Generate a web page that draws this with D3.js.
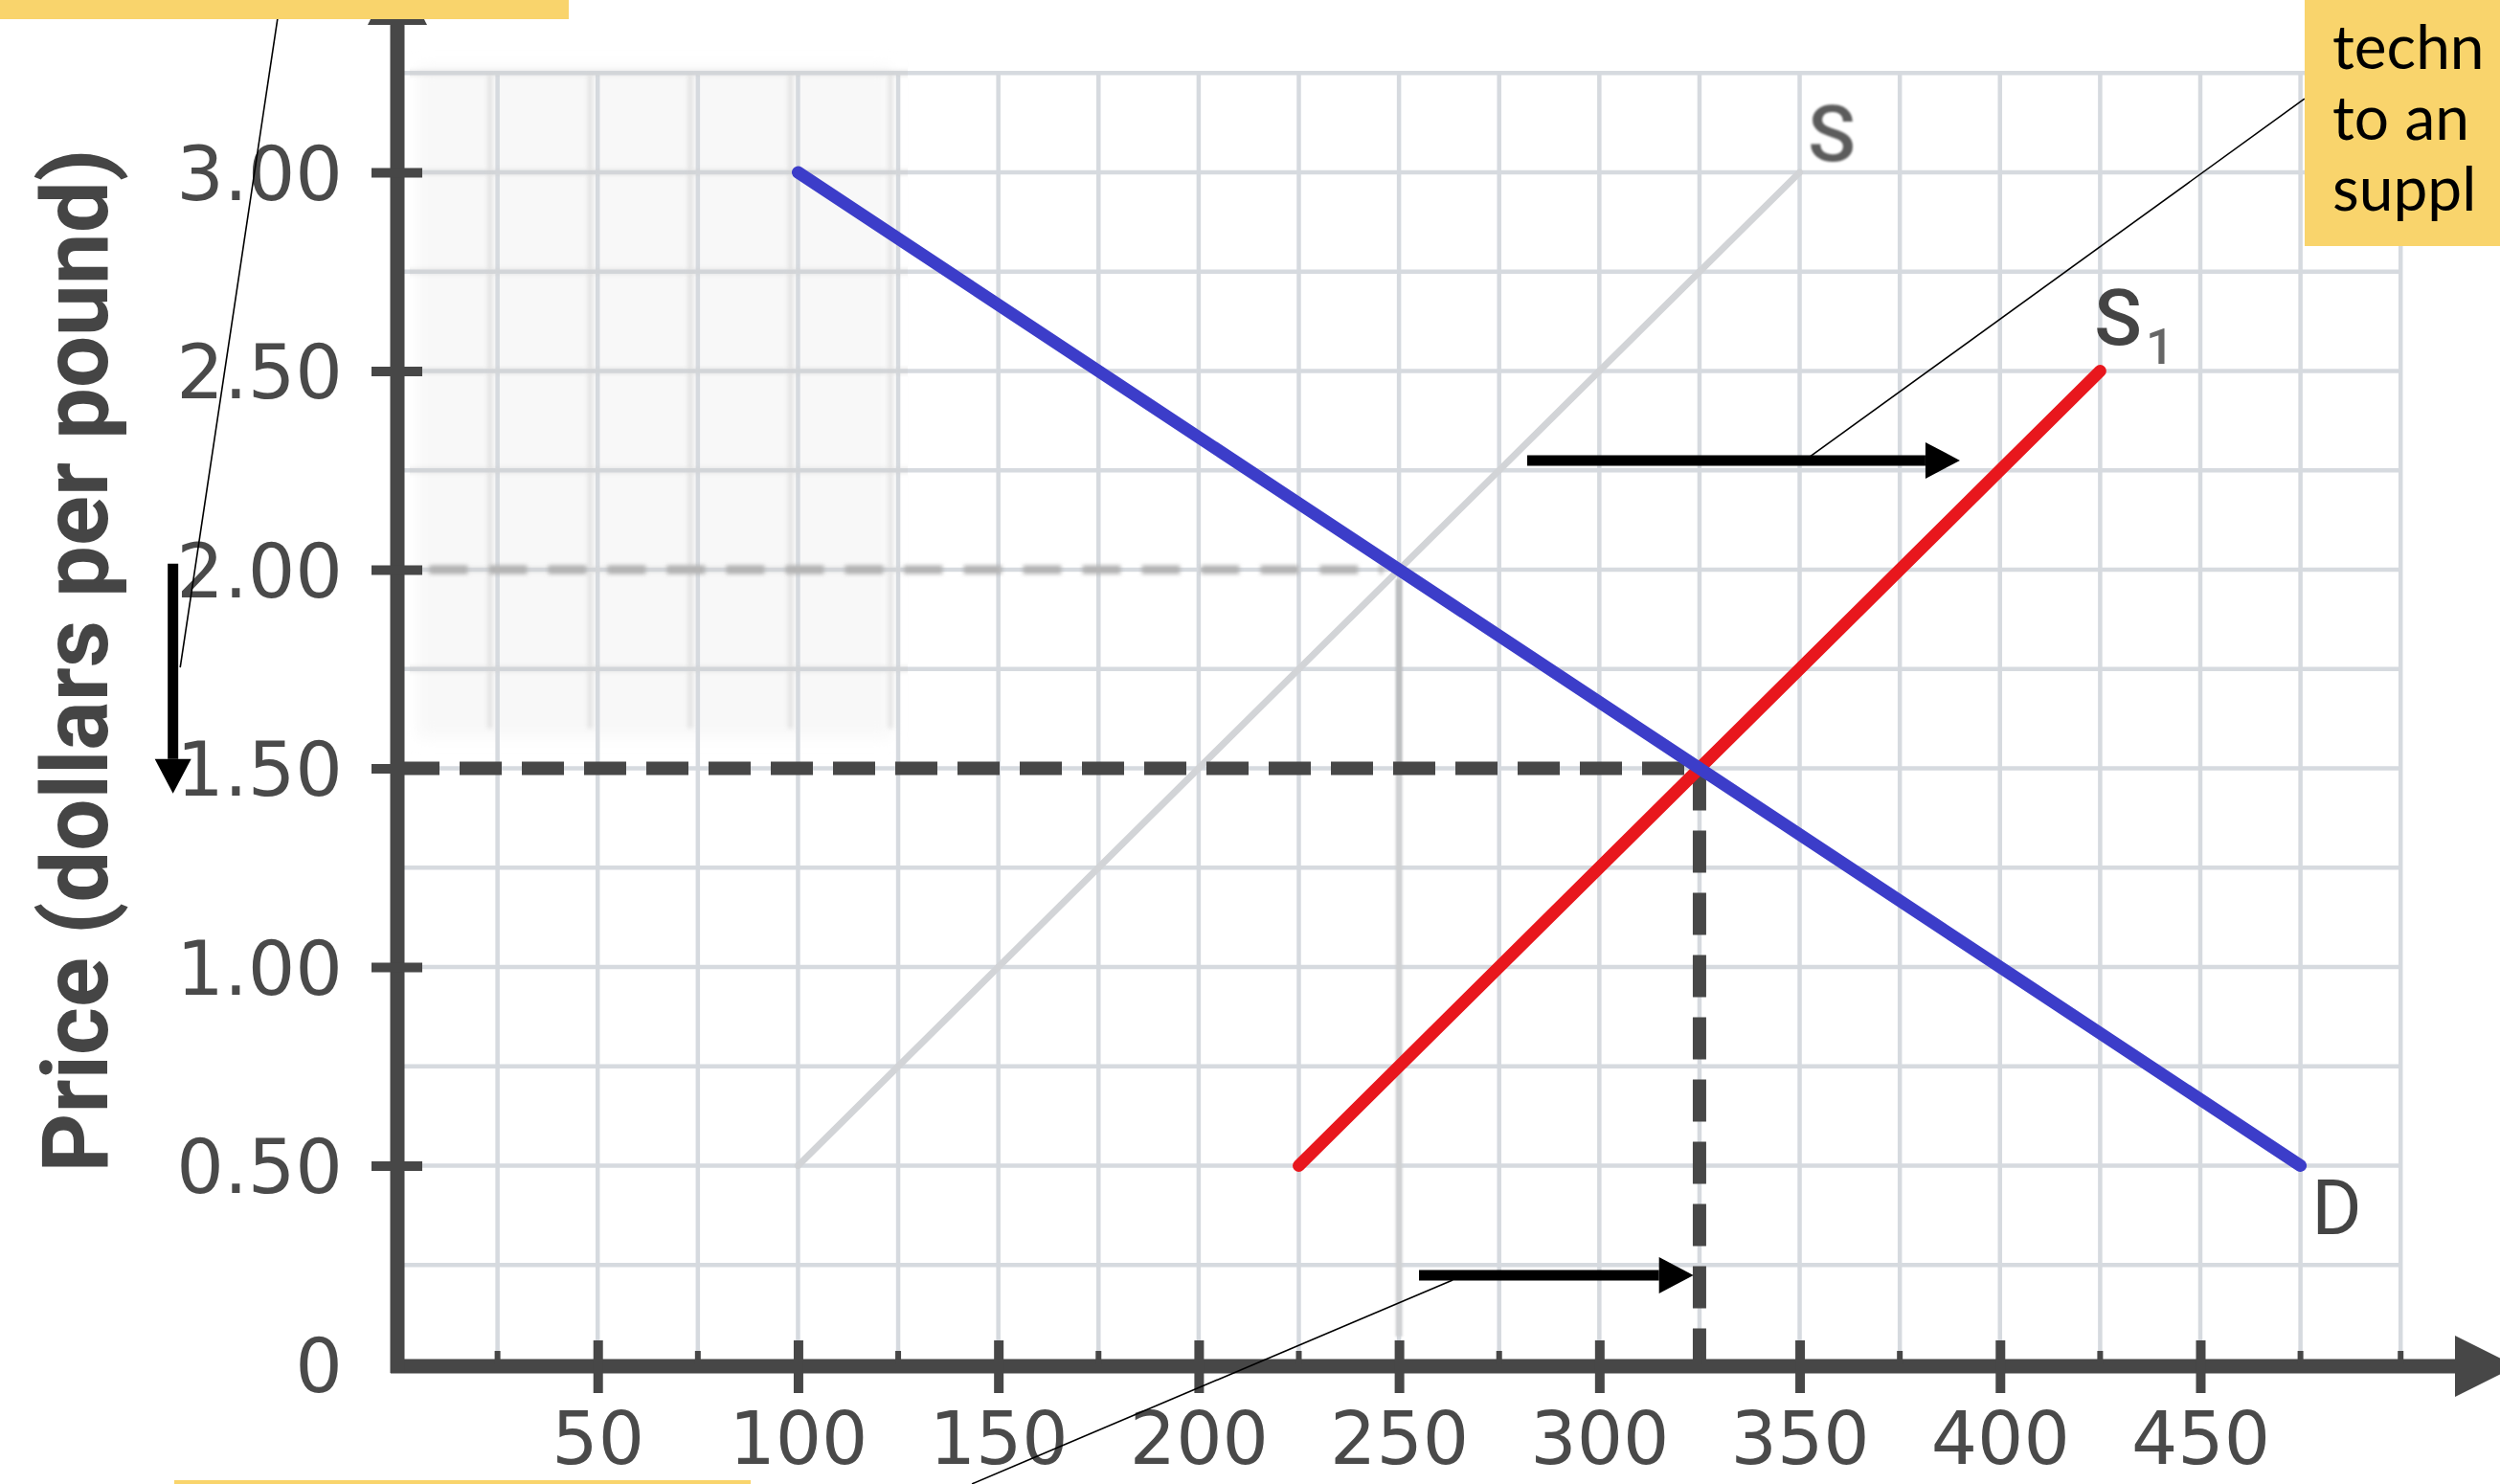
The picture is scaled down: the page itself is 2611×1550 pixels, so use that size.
<!DOCTYPE html>
<html><head><meta charset="utf-8">
<script src="https://cdn.jsdelivr.net/npm/d3@7"></script>
<style>html,body{margin:0;padding:0;background:#fff;overflow:hidden}</style>
</head><body><svg id="c" width="2611" height="1550"></svg>
<script>
// ---------- data ----------
const xTicks = [50, 100, 150, 200, 250, 300, 350, 400, 450];
const xTickLabels = ["50", "100", "150", "200", "250", "300", "350", "400", "450"];
const yTicks = [0, 0.5, 1.0, 1.5, 2.0, 2.5, 3.0];
const yTickLabels = ["0", "0.50", "1.00", "1.50", "2.00", "2.50", "3.00"];
const xGridValues = [25, 50, 75, 100, 125, 150, 175, 200, 225, 250, 275, 300, 325, 350, 375, 400, 425, 450, 475, 500];
const yGridValues = [0.25, 0.5, 0.75, 1.0, 1.25, 1.5, 1.75, 2.0, 2.25, 2.5, 2.75, 3.0, 3.25];
const supplyOld = [[100, 0.5], [350, 3.0]];
const supplyNew = [[225, 0.5], [425, 2.5]];
const demand = [[100, 3.0], [475, 0.5]];
const newEquilibrium = [325, 1.5];
const oldEquilibrium = [250, 2.0];
const curveLabels = [
  {text: "S", sub: "", q: 358, p: 3.03, kind: "ghost"},
  {text: "S", sub: "1", q: 433.5, p: 2.566, kind: "new"},
  {text: "D", sub: "", q: 477.8, p: 0.328, kind: "demand"}
];
const boxLines = ["techn", "to an", "suppl"];
// annotation arrows (quantity/price units)
const shiftArrows = [
  {q1: 282, q2: 390, p1: 2.275, p2: 2.275},
  {q1: 255, q2: 323.5, p1: 0.224, p2: 0.224},
  {q1: -56, q2: -56, p1: 2.015, p2: 1.437}
];
// callout leader lines (quantity/price units)
const callouts = [
  [[-29.2, 3.434], [-54.2, 1.754]],
  [[476, 3.185], [352.5, 2.284]],
  [[263.4, 0.212], [143.4, -0.301]]
];

// ---------- setup ----------
const W = 2611, H = 1550;
const svg = d3.select("#c");
const x = d3.scaleLinear().domain([0, 450]).range([415, 2298]);
const y = d3.scaleLinear().domain([0, 3]).range([1425, 180]);
const AX = "#474747";

const defs = svg.append("defs");
function blur(id, s) {
  defs.append("filter").attr("id", id).attr("filterUnits", "userSpaceOnUse")
    .attr("x", 0).attr("y", 0).attr("width", W).attr("height", H)
    .append("feGaussianBlur").attr("stdDeviation", s);
}
blur("blur6", 8); blur("blur2", 2.2); blur("blur1", 1.3);
defs.append("clipPath").attr("id", "ghostClip").append("rect")
  .attr("x", 428).attr("y", 60).attr("width", 520).attr("height", 730);

svg.append("rect").attr("width", W).attr("height", H).attr("fill", "#fff");

// faint blurred area at upper left of plot
svg.append("rect").attr("x", 436).attr("y", 70).attr("width", 495).attr("height", 700)
  .attr("fill", "#f8f8f8").attr("filter", "url(#blur6)");

// ---------- grid ----------
const grid = svg.append("g").attr("stroke", "#d6dadf").attr("stroke-width", 4.5);
grid.selectAll("line.v").data(xGridValues).join("line").attr("class", "v")
  .attr("x1", d => x(d)).attr("x2", d => x(d)).attr("y1", y(3.25)).attr("y2", y(0));
grid.selectAll("line.h").data(yGridValues).join("line").attr("class", "h")
  .attr("x1", x(0)).attr("x2", x(500)).attr("y1", d => y(d)).attr("y2", d => y(d));

const ghostGrid = svg.append("g").attr("clip-path", "url(#ghostClip)")
  .append("g").attr("stroke", "#cdcdcd").attr("stroke-width", 5).attr("filter", "url(#blur2)").attr("opacity", 0.5);
ghostGrid.selectAll("line.v").data(xGridValues).join("line")
  .attr("x1", d => x(d) - 8).attr("x2", d => x(d) - 8).attr("y1", y(3.25)).attr("y2", y(1.6));
ghostGrid.selectAll("line.h").data(yGridValues).join("line")
  .attr("x1", x(0)).attr("x2", x(130)).attr("y1", d => y(d)).attr("y2", d => y(d));

// faded dashed guides at the old equilibrium
svg.append("line").attr("x1", x(8)).attr("x2", x(oldEquilibrium[0] - 4))
  .attr("y1", y(oldEquilibrium[1])).attr("y2", y(oldEquilibrium[1]))
  .attr("stroke", "#b3b3b3").attr("stroke-width", 9).attr("stroke-dasharray", "40 22")
  .attr("filter", "url(#blur2)");
svg.append("line").attr("x1", x(oldEquilibrium[0])).attr("x2", x(oldEquilibrium[0]))
  .attr("y1", y(oldEquilibrium[1]) + 10).attr("y2", y(newEquilibrium[1]))
  .attr("stroke", "#bdbfc1").attr("stroke-width", 7).attr("filter", "url(#blur1)");
svg.append("line").attr("x1", x(oldEquilibrium[0])).attr("x2", x(oldEquilibrium[0]))
  .attr("y1", y(newEquilibrium[1])).attr("y2", y(0.07))
  .attr("stroke", "#d0d2d4").attr("stroke-width", 7).attr("filter", "url(#blur1)");

// ---------- curves ----------
const line = d3.line().x(d => x(d[0])).y(d => y(d[1]));
svg.append("path").datum(supplyOld).attr("d", line).attr("fill", "none")
  .attr("stroke", "#d2d4d7").attr("stroke-width", 7).attr("stroke-linecap", "round");

const dashG = svg.append("g").attr("stroke", "#474747").attr("stroke-width", 14).attr("stroke-dasharray", "44 21");
dashG.append("line").attr("x1", x(0)).attr("x2", x(newEquilibrium[0])).attr("y1", y(newEquilibrium[1])).attr("y2", y(newEquilibrium[1]));
dashG.append("line").attr("x1", x(newEquilibrium[0])).attr("x2", x(newEquilibrium[0])).attr("y1", y(newEquilibrium[1])).attr("y2", y(0));

svg.append("path").datum(supplyNew).attr("d", line).attr("fill", "none")
  .attr("stroke", "#e8171d").attr("stroke-width", 13).attr("stroke-linecap", "round");
svg.append("path").datum(demand).attr("d", line).attr("fill", "none")
  .attr("stroke", "#3c3dc9").attr("stroke-width", 13).attr("stroke-linecap", "round");

// ---------- axes ----------
svg.append("line").attr("x1", x(0) - 7).attr("x2", 2580).attr("y1", y(0) + 2).attr("y2", y(0) + 2)
  .attr("stroke", AX).attr("stroke-width", 15);
svg.append("path").attr("d", `M2564,${y(0) + 2 - 32}L2628,${y(0) + 2}L2564,${y(0) + 2 + 32}Z`).attr("fill", AX);
svg.append("line").attr("x1", x(0)).attr("x2", x(0)).attr("y1", 0).attr("y2", y(0) + 9)
  .attr("stroke", AX).attr("stroke-width", 15);
svg.append("path").attr("d", `M${x(0) - 31},26L${x(0)},-34L${x(0) + 31},26Z`).attr("fill", AX);

const xAxis = svg.append("g").attr("transform", `translate(0,${y(0) + 2})`)
  .call(d3.axisBottom(x).tickValues(xTicks).tickFormat((d, i) => xTickLabels[i]).tickSizeOuter(0));
xAxis.select(".domain").remove();
xAxis.selectAll(".tick line").attr("y1", -27).attr("y2", 28).attr("stroke", AX).attr("stroke-width", 10);
xAxis.selectAll(".tick text").attr("y", 102).attr("dy", 0)
  .attr("font-family", "DejaVu Sans").attr("font-size", 76).attr("fill", "#4a4a4a");

const xMinor = xGridValues.filter(v => xTicks.indexOf(v) < 0);
svg.append("g").selectAll("line").data(xMinor).join("line")
  .attr("x1", d => x(d)).attr("x2", d => x(d)).attr("y1", y(0) - 14).attr("y2", y(0))
  .attr("stroke", AX).attr("stroke-width", 6);

const yAxis = svg.append("g").attr("transform", `translate(${x(0)},0)`)
  .call(d3.axisLeft(y).tickValues(yTicks).tickFormat((d, i) => yTickLabels[i]).tickSizeOuter(0));
yAxis.select(".domain").remove();
yAxis.selectAll(".tick line").filter(d => d > 0).attr("x1", -27).attr("x2", 26).attr("stroke", AX).attr("stroke-width", 10);
yAxis.selectAll(".tick line").filter(d => d === 0).remove();
yAxis.selectAll(".tick text").attr("x", -57).attr("dy", "0.36em")
  .attr("font-family", "DejaVu Sans").attr("font-size", 78).attr("fill", "#4a4a4a");

svg.append("text").attr("transform", "translate(112,690) rotate(-90)")
  .attr("text-anchor", "middle").attr("font-family", "Roboto").attr("font-weight", 700)
  .attr("font-size", 96).attr("fill", "#454545").text("Price (dollars per pound)");

// ---------- curve labels ----------
curveLabels.forEach(l => {
  const t = svg.append("text").attr("x", x(l.q)).attr("y", y(l.p))
    .attr("font-family", "Roboto")
    .attr("font-size", l.kind === "demand" ? 80 : 82)
    .attr("font-weight", l.kind === "demand" ? 400 : 500)
    .attr("text-anchor", l.kind === "demand" ? "start" : "middle")
    .attr("fill", l.kind === "ghost" ? "#5c5c5c" : "#444");
  if (l.kind === "ghost") t.attr("filter", "url(#blur1)");
  t.append("tspan").text(l.text);
  if (l.sub) t.append("tspan").attr("dy", 20).attr("dx", 4).attr("font-size", 52).attr("fill", "#666").text(l.sub);
});

// ---------- shift arrows ----------
shiftArrows.forEach(a => {
  const x1 = x(a.q1), x2 = x(a.q2), y1 = y(a.p1), y2 = y(a.p2);
  const ang = Math.atan2(y2 - y1, x2 - x1), L = 36, HW = 19;
  const bx = x2 - L * Math.cos(ang), by = y2 - L * Math.sin(ang);
  svg.append("line").attr("x1", x1).attr("y1", y1).attr("x2", bx).attr("y2", by)
    .attr("stroke", "#000").attr("stroke-width", 11);
  const px = -Math.sin(ang) * HW, py = Math.cos(ang) * HW;
  svg.append("path").attr("d", `M${x2},${y2}L${bx + px},${by + py}L${bx - px},${by - py}Z`).attr("fill", "#000");
});

// ---------- callouts & yellow boxes ----------
callouts.forEach(c => {
  svg.append("line").attr("x1", x(c[0][0])).attr("y1", y(c[0][1])).attr("x2", x(c[1][0])).attr("y2", y(c[1][1]))
    .attr("stroke", "#000").attr("stroke-width", 1.6);
});
const YEL = "#f9d46c";
svg.append("rect").attr("x", 0).attr("y", 0).attr("width", 594).attr("height", 20).attr("fill", YEL);
svg.append("rect").attr("x", 182).attr("y", 1546).attr("width", 602).attr("height", 10).attr("fill", YEL);
svg.append("rect").attr("x", 2407).attr("y", -10).attr("width", 220).attr("height", 267).attr("fill", YEL);
const boxText = svg.append("text").attr("font-family", "Lato").attr("font-size", 64).attr("fill", "#000");
boxLines.forEach((d, i) => {
  boxText.append("tspan").attr("x", 2436).attr("y", 72 + i * 74).text(d);
});
</script></body></html>
